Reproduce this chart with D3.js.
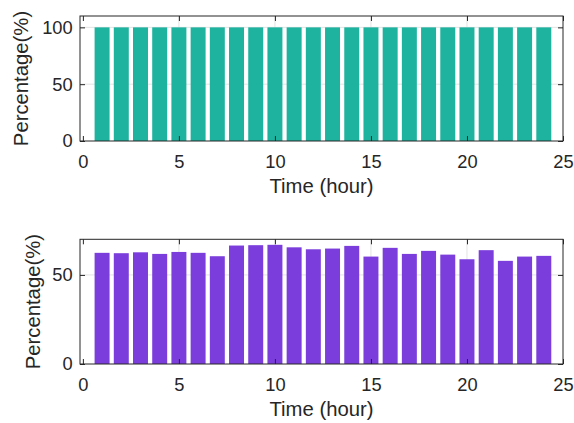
<!DOCTYPE html>
<html>
<head>
<meta charset="utf-8">
<script src="https://cdn.jsdelivr.net/npm/d3@7"></script>
<style>
  html, body { margin: 0; padding: 0; background: #fff; }
  svg { display: block; font-family: "Liberation Sans", Arial, sans-serif; }
</style>
</head>
<body>
<svg id="fig" width="574" height="423"></svg>
<script>
// Hourly share of time, two panels
const hours = d3.range(1, 25);
const topValues = [100, 100, 100, 100, 100, 100, 100, 100, 100, 100, 100, 100,
                   100, 100, 100, 100, 100, 100, 100, 100, 100, 100, 100, 100];
const bottomValues = [62.4, 62.2, 62.7, 61.8, 62.9, 62.4, 60.5, 66.5, 66.7, 66.9, 65.5, 64.4,
                      64.8, 66.3, 60.3, 65.2, 61.8, 63.5, 61.4, 58.8, 63.9, 57.9, 60.3, 60.7];
const xTicks = [0, 5, 10, 15, 20, 25];
const topYTicks = [0, 50, 100];
const bottomYTicks = [0, 50];
const xLabel = "Time (hour)";
const yLabel = "Percentage(%)";

const svg = d3.select("#fig");
const axisColor = "#262626";
const gridColor = "#e3e3e3";
const tickFont = 18.3;
const labelFont = 20.3;

function panel(opts) {
  const { values, yMax, yTicks, color, left, right, top, bottom, yLabelX } = opts;
  const x = d3.scaleLinear().domain([-0.15, 25]).range([left, right]);
  const y = d3.scaleLinear().domain([0, yMax]).range([bottom, top]);
  const g = svg.append("g");

  // grid
  g.append("g").selectAll("line.gy").data(yTicks.filter(t => t > 0)).join("line")
    .attr("x1", left).attr("x2", right)
    .attr("y1", d => y(d)).attr("y2", d => y(d))
    .attr("stroke", gridColor).attr("stroke-width", 1);
  g.append("g").selectAll("line.gx").data(xTicks.filter(t => t > 0 && t < 25)).join("line")
    .attr("x1", d => x(d)).attr("x2", d => x(d))
    .attr("y1", top).attr("y2", bottom)
    .attr("stroke", gridColor).attr("stroke-width", 1);

  // bars
  const bw = (x(1) - x(0)) * 0.78;
  g.append("g").selectAll("rect").data(hours).join("rect")
    .attr("x", (d) => x(d) - bw / 2)
    .attr("width", bw)
    .attr("y", (d, i) => y(values[i]))
    .attr("height", (d, i) => y(0) - y(values[i]))
    .attr("fill", color);

  // axes with inward ticks
  const xb = d3.axisBottom(x).tickValues(xTicks).tickSizeInner(-5).tickSizeOuter(0).tickPadding(14.5);
  const xt = d3.axisTop(x).tickValues(xTicks).tickSizeInner(-5).tickSizeOuter(0).tickFormat("");
  const yl = d3.axisLeft(y).tickValues(yTicks).tickSizeInner(-5).tickSizeOuter(0).tickPadding(7.3);
  const yr = d3.axisRight(y).tickValues(yTicks).tickSizeInner(-5).tickSizeOuter(0).tickFormat("");

  const styleAxis = sel => {
    sel.select(".domain").remove();
    sel.selectAll("line").attr("stroke", axisColor);
    sel.selectAll("text").attr("fill", axisColor).style("font-size", tickFont + "px");
  };
  g.append("g").attr("transform", `translate(0,${bottom})`).call(xb).call(styleAxis);
  g.append("g").attr("transform", `translate(0,${top})`).call(xt).call(styleAxis);
  g.append("g").attr("transform", `translate(${left},0)`).call(yl).call(styleAxis);
  g.append("g").attr("transform", `translate(${right},0)`).call(yr).call(styleAxis);

  // box
  g.append("rect")
    .attr("x", left).attr("y", top)
    .attr("width", right - left).attr("height", bottom - top)
    .attr("fill", "none").attr("stroke", axisColor).attr("stroke-width", 1);

  // labels
  g.append("text")
    .attr("x", (left + right) / 2).attr("y", bottom + 52)
    .attr("text-anchor", "middle")
    .attr("fill", axisColor)
    .style("font-size", labelFont + "px")
    .text(xLabel);
  g.append("text")
    .attr("transform", `translate(${yLabelX},${(top + bottom) / 2}) rotate(-90)`)
    .attr("text-anchor", "middle")
    .attr("fill", axisColor)
    .style("font-size", labelFont + "px")
    .text(yLabel);
}

panel({ values: topValues, yMax: 110, yTicks: topYTicks, color: "#1eb39f",
        left: 80, right: 563, top: 16, bottom: 141, yLabelX: 28 });
panel({ values: bottomValues, yMax: 70, yTicks: bottomYTicks, color: "#7b3edc",
        left: 80, right: 563, top: 239.3, bottom: 364, yLabelX: 40 });
</script>
</body>
</html>
